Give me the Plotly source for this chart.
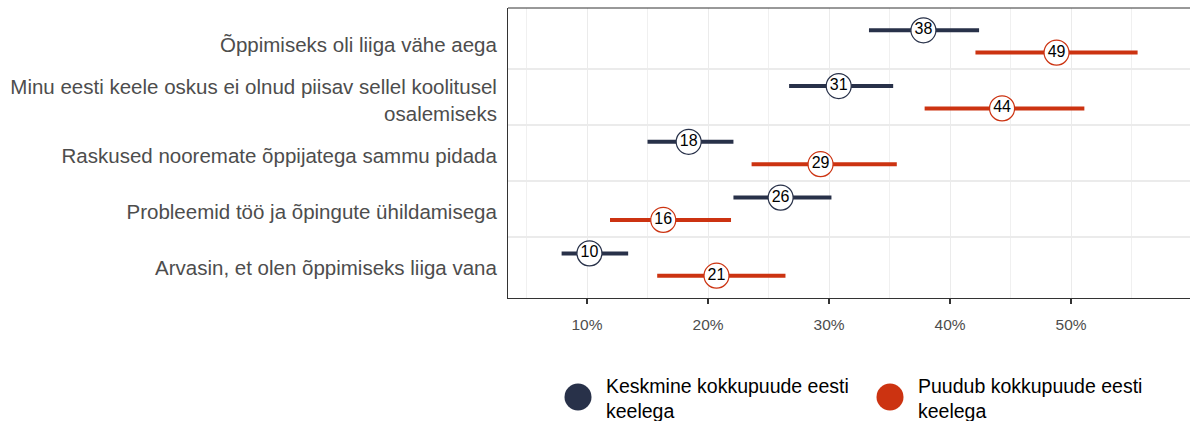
import plotly.graph_objects as go

# Survey reasons, top to bottom
categories = [
    "Õppimiseks oli liiga vähe aega",
    "Minu eesti keele oskus ei olnud piisav sellel koolitusel<br>osalemiseks",
    "Raskused nooremate õppijatega sammu pidada",
    "Probleemid töö ja õpingute ühildamisega",
    "Arvasin, et olen õppimiseks liiga vana",
]

groups = ["Keskmine kokkupuude eesti<br>keelega", "Puudub kokkupuude eesti<br>keelega"]

# Share (%) with confidence interval bounds, one list per group
mid_value = [37.8, 30.8, 18.4, 26.0, 10.2]
mid_low = [33.3, 26.7, 15.0, 22.1, 7.9]
mid_high = [42.4, 35.3, 22.1, 30.2, 13.4]

none_value = [48.8, 44.3, 29.3, 16.3, 20.7]
none_low = [42.1, 37.9, 23.6, 11.9, 15.8]
none_high = [55.5, 51.1, 35.6, 21.9, 26.4]

colors = ["#283149", "#cc3311"]
dodge = [0.2, -0.2]
FONT = "Liberation Sans, Arial, sans-serif"

n = len(categories)
ypos = [n - i for i in range(n)]

fig = go.Figure()

series = [
    (mid_value, mid_low, mid_high),
    (none_value, none_low, none_high),
]

for k, (vals, lows, highs) in enumerate(series):
    ys = [y + dodge[k] for y in ypos]
    # interval segments
    lx, ly = [], []
    for lo, hi, y in zip(lows, highs, ys):
        lx += [lo, hi, None]
        ly += [y, y, None]
    fig.add_trace(go.Scatter(
        x=lx, y=ly, mode="lines",
        line=dict(color=colors[k], width=4),
        showlegend=False, hoverinfo="skip",
    ))
    # point labels
    fig.add_trace(go.Scatter(
        x=vals, y=ys, mode="markers+text",
        marker=dict(size=25, color="white", line=dict(color=colors[k], width=1.2)),
        text=[f"{v:.0f}" for v in vals],
        textposition="middle center",
        textfont=dict(family=FONT, size=16, color="black"),
        showlegend=False, name=groups[k],
    ))

# custom legend below the panel (panel spans 682 x 290 px)
PW, PH, PB = 682.0, 290.0, 298.0
legend_cx = [578, 890]
shapes = [
    dict(type="line", xref="paper", yref="paper", x0=0, x1=1, y0=1, y1=1,
         line=dict(color="#333333", width=1)),
]
annotations = []
for k in range(2):
    cx = (legend_cx[k] - 508) / PW
    cy = 397
    shapes.append(dict(
        type="circle", xref="paper", yref="paper",
        x0=cx - 13.5 / PW, x1=cx + 13.5 / PW,
        y0=-(cy - PB + 13.5) / PH, y1=-(cy - PB - 13.5) / PH,
        fillcolor=colors[k], line=dict(color=colors[k], width=0),
    ))
    annotations.append(dict(
        xref="paper", yref="paper", x=cx + 26 / PW, y=-(398 - PB) / PH,
        xanchor="left", yanchor="middle", align="left", showarrow=False,
        text=groups[k],
        font=dict(family=FONT, size=19.5, color="black"),
    ))

fig.update_layout(
    width=1190, height=421,
    margin=dict(l=508, r=0, t=8, b=123),
    paper_bgcolor="white", plot_bgcolor="white",
    font=dict(family=FONT),
    shapes=shapes, annotations=annotations,
    showlegend=False,
)

fig.update_xaxes(
    range=[3.47, 59.83],
    tickvals=[10, 20, 30, 40, 50],
    ticktext=["10%", "20%", "30%", "40%", "50%"],
    showgrid=True, gridcolor="#ebebeb", gridwidth=1.4,
    minor=dict(tickvals=[5, 15, 25, 35, 45, 55], showgrid=True, gridcolor="#f0f0f0", gridwidth=1.1),
    showline=True, linecolor="#333333", linewidth=1,
    ticks="outside", ticklen=5, tickwidth=1.5, tickcolor="#333333",
    tickfont=dict(size=15.5, color="#4d4d4d"),
    ticklabelstandoff=7,
    zeroline=False,
)

fig.update_yaxes(
    range=[0.4, 5.6],
    tickvals=ypos, ticktext=categories,
    showgrid=False,
    minor=dict(tickvals=[1.5, 2.5, 3.5, 4.5], showgrid=True, gridcolor="#ebebeb", gridwidth=2),
    showline=True, linecolor="#333333", linewidth=1,
    ticks="",
    tickfont=dict(size=20.5, color="#4d4d4d"),
    ticklabelstandoff=6,
    ticklabelshift=3,
    zeroline=False,
)

fig.write_html("out.html")
